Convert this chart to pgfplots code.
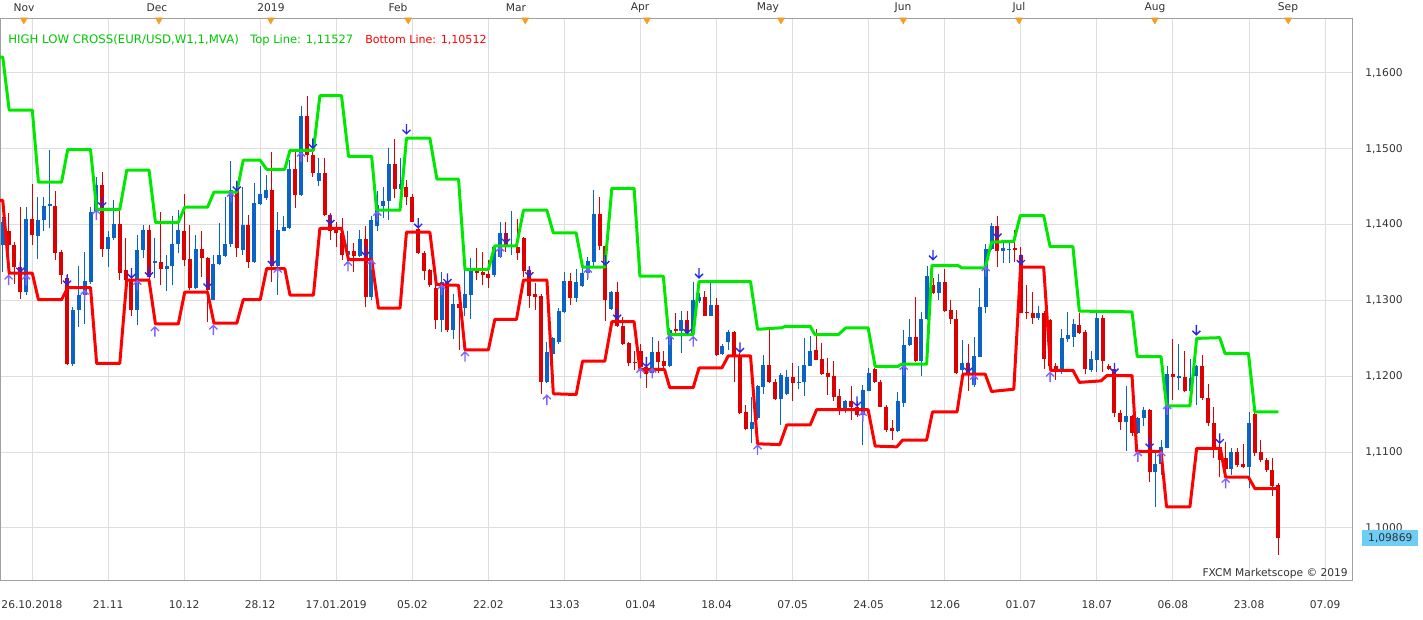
\documentclass[border=0pt]{standalone}
\usepackage{fontspec}
\setmainfont{DejaVu Sans}
\usepackage{pgfplots}
\usepackage{pgfplotstable}
\pgfplotsset{compat=1.18}
\definecolor{candblue}{RGB}{10,100,200}
\definecolor{candred}{RGB}{221,0,0}
\definecolor{lgreen}{RGB}{0,232,0}
\definecolor{tgreen}{RGB}{0,200,0}
\definecolor{lred}{RGB}{255,0,0}
\definecolor{gridc}{RGB}{222,222,222}
\definecolor{framec}{RGB}{160,160,160}
\definecolor{uparr}{RGB}{125,100,255}
\definecolor{dnarr}{RGB}{40,40,230}
\definecolor{tri}{RGB}{240,160,40}
\definecolor{lastbox}{RGB}{110,205,245}
\definecolor{txt}{RGB}{50,50,50}
\pgfdeclareplotmark{arrup}{%
  \pgfpathmoveto{\pgfqpoint{0pt}{-3.8pt}}\pgfpathlineto{\pgfqpoint{0pt}{3.5pt}}%
  \pgfpathmoveto{\pgfqpoint{-3pt}{0.5pt}}\pgfpathlineto{\pgfqpoint{0pt}{3.5pt}}\pgfpathlineto{\pgfqpoint{3pt}{0.5pt}}%
  \pgfusepathqstroke}
\pgfdeclareplotmark{arrdn}{%
  \pgfpathmoveto{\pgfqpoint{0pt}{3.8pt}}\pgfpathlineto{\pgfqpoint{0pt}{-3.5pt}}%
  \pgfpathmoveto{\pgfqpoint{-3pt}{-0.5pt}}\pgfpathlineto{\pgfqpoint{0pt}{-3.5pt}}\pgfpathlineto{\pgfqpoint{3pt}{-0.5pt}}%
  \pgfusepathqstroke}
\pgfplotstableread{
i o h l c
0 1.1373 1.1410 1.1337 1.1403
4 1.1311 1.1423 1.1307 1.1408
6 1.1385 1.1436 1.1355 1.1406
7 1.1406 1.1436 1.1392 1.1425
8 1.1425 1.1498 1.1395 1.1427
12 1.1216 1.1291 1.1214 1.1288
13 1.1288 1.1346 1.1265 1.1307
14 1.1307 1.1364 1.1269 1.1326
15 1.1324 1.1423 1.1322 1.1417
16 1.1417 1.1463 1.1410 1.1452
18 1.1368 1.1392 1.1344 1.1384
19 1.1382 1.1433 1.1380 1.1401
23 1.1287 1.1386 1.1268 1.1367
24 1.1367 1.1400 1.1356 1.1393
26 1.1350 1.1382 1.1329 1.1352
28 1.1342 1.1360 1.1312 1.1345
29 1.1345 1.1411 1.1320 1.1375
30 1.1375 1.1419 1.1362 1.1393
33 1.1316 1.1386 1.1315 1.1368
36 1.1301 1.1360 1.1300 1.1348
37 1.1348 1.1402 1.1347 1.1360
38 1.1359 1.1437 1.1358 1.1375
39 1.1375 1.1484 1.1371 1.1446
41 1.1367 1.1450 1.1360 1.1400
43 1.1351 1.1455 1.1350 1.1428
44 1.1427 1.1477 1.1426 1.1441
45 1.1435 1.1466 1.1433 1.1446
47 1.1345 1.1417 1.1307 1.1393
48 1.1392 1.1411 1.1391 1.1397
49 1.1395 1.1485 1.1394 1.1474
51 1.1439 1.1556 1.1438 1.1543
54 1.1457 1.1488 1.1451 1.1468
59 1.1360 1.1391 1.1349 1.1365
61 1.1359 1.1393 1.1358 1.1381
63 1.1305 1.1411 1.1301 1.1406
64 1.1398 1.1444 1.1391 1.1426
65 1.1425 1.1450 1.1409 1.1431
66 1.1431 1.1501 1.1406 1.1480
68 1.1447 1.1488 1.1446 1.1453
75 1.1274 1.1338 1.1259 1.1325
77 1.1261 1.1309 1.1249 1.1295
79 1.1290 1.1340 1.1279 1.1309
80 1.1307 1.1356 1.1276 1.1341
84 1.1334 1.1373 1.1331 1.1371
85 1.1358 1.1403 1.1356 1.1389
87 1.1371 1.1418 1.1360 1.1373
93 1.1193 1.1245 1.1191 1.1232
94 1.1230 1.1252 1.1217 1.1250
95 1.1245 1.1290 1.1243 1.1286
96 1.1285 1.1338 1.1283 1.1326
98 1.1303 1.1342 1.1298 1.1325
99 1.1319 1.1344 1.1318 1.1336
100 1.1336 1.1357 1.1327 1.1352
101 1.1351 1.1446 1.1344 1.1414
104 1.1289 1.1313 1.1288 1.1311
111 1.1204 1.1252 1.1199 1.1232
114 1.1214 1.1264 1.1212 1.1261
116 1.1260 1.1286 1.1231 1.1274
118 1.1257 1.1324 1.1255 1.1300
119 1.1299 1.1310 1.1297 1.1304
121 1.1280 1.1323 1.1279 1.1294
123 1.1229 1.1242 1.1228 1.1240
124 1.1245 1.1261 1.1235 1.1258
128 1.1131 1.1173 1.1112 1.1140
129 1.1145 1.1189 1.1143 1.1187
130 1.1186 1.1228 1.1177 1.1215
133 1.1170 1.1205 1.1136 1.1202
134 1.1177 1.1208 1.1176 1.1199
136 1.1191 1.1213 1.1183 1.1193
137 1.1192 1.1250 1.1174 1.1215
138 1.1214 1.1253 1.1213 1.1233
144 1.1158 1.1169 1.1151 1.1167
147 1.1149 1.1189 1.1110 1.1182
148 1.1181 1.1211 1.1180 1.1205
153 1.1128 1.1179 1.1126 1.1168
154 1.1165 1.1261 1.1160 1.1241
155 1.1241 1.1276 1.1240 1.1252
157 1.1220 1.1285 1.1200 1.1275
158 1.1275 1.1346 1.1274 1.1332
160 1.1310 1.1335 1.1301 1.1325
164 1.1208 1.1248 1.1203 1.1218
166 1.1188 1.1252 1.1186 1.1227
167 1.1226 1.1316 1.1225 1.1292
168 1.1292 1.1375 1.1283 1.1368
169 1.1368 1.1402 1.1367 1.1398
171 1.1365 1.1377 1.1349 1.1369
172 1.1366 1.1380 1.1349 1.1368
177 1.1277 1.1293 1.1274 1.1284
181 1.1210 1.1263 1.1203 1.1250
182 1.1249 1.1285 1.1245 1.1254
183 1.1252 1.1276 1.1239 1.1269
186 1.1208 1.1234 1.1206 1.1223
187 1.1222 1.1283 1.1206 1.1277
192 1.1140 1.1187 1.1102 1.1148
194 1.1125 1.1147 1.1124 1.1145
195 1.1145 1.1160 1.1134 1.1156
197 1.1074 1.1101 1.1028 1.1085
198 1.1085 1.1116 1.1070 1.1107
199 1.1106 1.1213 1.1105 1.1203
201 1.1198 1.1242 1.1182 1.1200
203 1.1180 1.1223 1.1179 1.1198
204 1.1200 1.1215 1.1162 1.1213
210 1.1078 1.1105 1.1070 1.1100
213 1.1080 1.1153 1.1053 1.1138
}\upc
\pgfplotstableread{
i o h l c
1 1.1391 1.1415 1.1326 1.1373
2 1.1373 1.1377 1.1322 1.1344
3 1.1344 1.1423 1.1302 1.1311
5 1.1408 1.1454 1.1373 1.1386
9 1.1425 1.1445 1.1353 1.1363
10 1.1364 1.1366 1.1322 1.1334
11 1.1330 1.1335 1.1215 1.1216
17 1.1452 1.1469 1.1357 1.1368
20 1.1401 1.1419 1.1327 1.1336
21 1.1340 1.1382 1.1318 1.1327
22 1.1327 1.1331 1.1279 1.1287
25 1.1393 1.1400 1.1318 1.1331
27 1.1351 1.1417 1.1320 1.1342
31 1.1391 1.1441 1.1345 1.1353
32 1.1355 1.1400 1.1314 1.1316
34 1.1368 1.1391 1.1331 1.1356
35 1.1356 1.1358 1.1271 1.1314
40 1.1446 1.1452 1.1358 1.1369
42 1.1400 1.1413 1.1343 1.1351
46 1.1446 1.1496 1.1325 1.1345
50 1.1474 1.1496 1.1422 1.1439
52 1.1543 1.1569 1.1483 1.1492
53 1.1492 1.1503 1.1463 1.1468
55 1.1468 1.1488 1.1411 1.1413
56 1.1413 1.1415 1.1380 1.1391
57 1.1393 1.1404 1.1371 1.1389
58 1.1389 1.1409 1.1354 1.1360
60 1.1365 1.1376 1.1337 1.1359
62 1.1381 1.1398 1.1291 1.1305
67 1.1480 1.1513 1.1435 1.1447
69 1.1450 1.1459 1.1426 1.1436
70 1.1437 1.1440 1.1403 1.1404
71 1.1394 1.1402 1.1361 1.1362
72 1.1362 1.1365 1.1327 1.1339
73 1.1340 1.1342 1.1318 1.1321
74 1.1316 1.1320 1.1263 1.1274
76 1.1325 1.1329 1.1259 1.1261
78 1.1295 1.1301 1.1235 1.1290
81 1.1341 1.1369 1.1327 1.1336
82 1.1337 1.1364 1.1320 1.1334
83 1.1335 1.1353 1.1317 1.1329
86 1.1389 1.1403 1.1364 1.1373
88 1.1371 1.1408 1.1353 1.1362
89 1.1383 1.1384 1.1331 1.1339
90 1.1340 1.1345 1.1290 1.1306
91 1.1308 1.1323 1.1287 1.1305
92 1.1306 1.1309 1.1177 1.1193
97 1.1326 1.1336 1.1294 1.1303
102 1.1414 1.1437 1.1366 1.1372
103 1.1372 1.1373 1.1273 1.1300
105 1.1311 1.1325 1.1265 1.1266
106 1.1266 1.1278 1.1241 1.1243
107 1.1244 1.1245 1.1213 1.1218
108 1.1219 1.1234 1.1208 1.1217
109 1.1234 1.1243 1.1208 1.1212
110 1.1212 1.1221 1.1184 1.1203
112 1.1232 1.1247 1.1204 1.1219
113 1.1220 1.1233 1.1211 1.1214
115 1.1262 1.1283 1.1253 1.1260
117 1.1274 1.1286 1.1255 1.1257
120 1.1304 1.1313 1.1279 1.1280
122 1.1294 1.1303 1.1227 1.1228
125 1.1258 1.1260 1.1193 1.1228
126 1.1228 1.1231 1.1150 1.1151
127 1.1153 1.1162 1.1129 1.1131
131 1.1215 1.1261 1.1191 1.1193
132 1.1193 1.1196 1.1169 1.1170
135 1.1199 1.1217 1.1168 1.1191
139 1.1235 1.1262 1.1221 1.1222
140 1.1223 1.1244 1.1202 1.1203
141 1.1204 1.1224 1.1176 1.1199
142 1.1201 1.1220 1.1167 1.1173
143 1.1174 1.1183 1.1149 1.1156
145 1.1167 1.1187 1.1143 1.1159
146 1.1159 1.1167 1.1147 1.1149
149 1.1209 1.1211 1.1191 1.1192
150 1.1193 1.1195 1.1159 1.1160
151 1.1160 1.1162 1.1126 1.1129
152 1.1132 1.1142 1.1116 1.1128
156 1.1252 1.1305 1.1219 1.1220
159 1.1321 1.1329 1.1309 1.1310
161 1.1325 1.1342 1.1285 1.1286
162 1.1287 1.1301 1.1269 1.1275
163 1.1276 1.1288 1.1203 1.1204
165 1.1217 1.1242 1.1181 1.1203
170 1.1398 1.1411 1.1344 1.1365
173 1.1369 1.1393 1.1351 1.1366
174 1.1360 1.1371 1.1283 1.1284
175 1.1285 1.1320 1.1276 1.1283
176 1.1284 1.1311 1.1269 1.1277
178 1.1284 1.1286 1.1210 1.1223
179 1.1274 1.1276 1.1208 1.1214
180 1.1214 1.1217 1.1195 1.1210
184 1.1268 1.1283 1.1256 1.1257
185 1.1258 1.1261 1.1203 1.1209
188 1.1277 1.1281 1.1206 1.1220
189 1.1214 1.1216 1.1208 1.1209
190 1.1209 1.1217 1.1147 1.1151
191 1.1151 1.1156 1.1129 1.1140
193 1.1148 1.1149 1.1121 1.1125
196 1.1156 1.1157 1.1061 1.1074
200 1.1203 1.1249 1.1169 1.1199
202 1.1199 1.1233 1.1179 1.1180
205 1.1214 1.1228 1.1169 1.1171
206 1.1171 1.1190 1.1134 1.1138
207 1.1138 1.1159 1.1092 1.1106
208 1.1107 1.1111 1.1067 1.1089
209 1.1092 1.1114 1.1068 1.1078
211 1.1100 1.1106 1.1081 1.1083
212 1.1084 1.1111 1.1079 1.1080
214 1.1150 1.1151 1.1095 1.1099
215 1.1100 1.1116 1.1087 1.1090
216 1.1090 1.1092 1.1074 1.1076
217 1.1077 1.1092 1.1042 1.1056
218 1.1057 1.1059 1.0965 1.0987
}\dnc
\pgfplotsset{
  wick/.style={draw=none, mark=none, forget plot, error bars/.cd, y dir=plus, y explicit, error mark=none, error bar style={draw=#1, line width=0.75pt}},
  body/.style={draw=none, mark=none, forget plot, error bars/.cd, y dir=plus, y explicit, error mark=none, error bar style={draw=#1, line width=3pt}},
}
\begin{document}
\begin{tikzpicture}
\path[use as bounding box] (0pt,-29.25pt) rectangle (1067.25pt,435pt);
\begin{axis}[
  scale only axis, width=1014pt, height=421.5pt,
  xmin=-0.47, xmax=230.6, ymin=1.09314, ymax=1.16725,
  clip=false,
  axis line style={framec, line width=0.75pt},
  xtick={5,18,31,44,57,70,83,96,109,122,135,148,161,174,187,200,213,226},
  xticklabels={26.10.2018,21.11,10.12,28.12,17.01.2019,05.02,22.02,13.03,01.04,18.04,07.05,24.05,12.06,01.07,18.07,06.08,23.08,07.09},
  ytick={1.10,1.11,1.12,1.13,1.14,1.15,1.16},
  yticklabels={{1,1000},{1,1100},{1,1200},{1,1300},{1,1400},{1,1500},{1,1600}},
  yticklabel pos=right,
  xmajorgrids, ymajorgrids,
  grid style={gridc, line width=0.75pt},
  major tick length=0pt,
  xticklabel style={anchor=center, yshift=-18.75pt, font=\fontsize{8}{9}\selectfont, text=txt},
  yticklabel style={anchor=west, inner sep=0pt, xshift=9.75pt, font=\fontsize{8}{9}\selectfont, text=txt},
]
\addplot[wick=candblue] table[x=i, y=l, y error plus expr={\thisrow{h}-\thisrow{l}}] {\upc};
\addplot[wick=candred] table[x=i, y=l, y error plus expr={\thisrow{h}-\thisrow{l}}] {\dnc};
\addplot[body=candblue] table[x=i, y=o, y error plus expr={\thisrow{c}-\thisrow{o}}] {\upc};
\addplot[body=candred] table[x=i, y=c, y error plus expr={\thisrow{o}-\thisrow{c}}] {\dnc};
\addplot[lgreen, line width=2.25pt, line join=round] coordinates {
(-0.47,1.1621) (0,1.1621) (1.1,1.1551) (5.05,1.1551) (6.1,1.1456) (10.05,1.1456) (11.1,1.1499) (15,1.1499) (16.05,1.1420) (20,1.1420) (21.2,1.1472) (25,1.1472) (26.1,1.1403) (30,1.1403) (31.1,1.1423) (35,1.1423) (36.1,1.1443) (40,1.1443) (41.1,1.1485) (44,1.1485) (45.1,1.1473) (48.2,1.1473) (49.1,1.1498) (53.1,1.1498) (54.2,1.1570) (57.9,1.1570) (59.1,1.1490) (63.05,1.1490) (63.9,1.1419) (67.9,1.1419) (69,1.1514) (73,1.1514) (74.2,1.1460) (77.9,1.1460) (79,1.1341) (83,1.1341) (84.1,1.1372) (87.8,1.1372) (89,1.1419) (93,1.1419) (94.1,1.1389) (98,1.1389) (99.1,1.1344) (102.9,1.1344) (104.1,1.1448) (107.9,1.1448) (108.9,1.1332) (112.9,1.1332) (113.8,1.1255) (118,1.1255) (119,1.1325) (127.8,1.1325) (129,1.1262) (133.1,1.1264) (133.8,1.1266) (138,1.1266) (138.8,1.1255) (142.8,1.1255) (144.1,1.1264) (147.9,1.1264) (149.1,1.1213) (153,1.1213) (153.6,1.1216) (157.9,1.1216) (158.8,1.1346) (163.3,1.1346) (163.9,1.1343) (167.9,1.1343) (169,1.1377) (172.8,1.1378) (173.9,1.1412) (177.9,1.1412) (179,1.1371) (182.9,1.1371) (184,1.1286) (193,1.1285) (193.9,1.1226) (197.96,1.1226) (198.9,1.1161) (202.9,1.1161) (204.05,1.1250) (208,1.1251) (208.9,1.1230) (212.9,1.1230) (214,1.1153) (218,1.1153)
};
\addplot[lred, line width=2.25pt, line join=round] coordinates {
(-0.47,1.1432) (0,1.1432) (1.1,1.1336) (5.05,1.1336) (6.1,1.1301) (10.05,1.1301) (11.1,1.1317) (15,1.1317) (16.05,1.1217) (20,1.1217) (21.2,1.1327) (25,1.1327) (26.1,1.1269) (30,1.1269) (31.1,1.1311) (35,1.1311) (36.1,1.1270) (40,1.1270) (41.1,1.1301) (44,1.1301) (45.1,1.1342) (48.2,1.1342) (49.1,1.1307) (53.1,1.1307) (54.2,1.1395) (57.9,1.1395) (59.1,1.1354) (63.05,1.1354) (64.2,1.1290) (67.9,1.1290) (69,1.1390) (73,1.1390) (74.1,1.1321) (77.9,1.1320) (79,1.1235) (83,1.1235) (84.1,1.1275) (87.8,1.1275) (89,1.1327) (93,1.1327) (94.1,1.1177) (98,1.1176) (99.1,1.1220) (102.9,1.1220) (104.1,1.1272) (107.9,1.1272) (108.9,1.1209) (113.1,1.1209) (114,1.1185) (118,1.1185) (119,1.1211) (122.9,1.1211) (124,1.1227) (127.8,1.1227) (129,1.1111) (132.8,1.1110) (134,1.1136) (138,1.1136) (139.1,1.1156) (147.9,1.1156) (149.1,1.1108) (152.8,1.1107) (153.8,1.1116) (157.9,1.1116) (158.9,1.1153) (163.1,1.1153) (164.1,1.1203) (167.9,1.1203) (169,1.1180) (172.8,1.1183) (173.95,1.1344) (177.9,1.1344) (179.1,1.1208) (182.9,1.1208) (184,1.1192) (187.7,1.1194) (188.7,1.1201) (193,1.1201) (193.8,1.1101) (197.96,1.1101) (198.9,1.1028) (202.9,1.1028) (204.05,1.1105) (208.1,1.1105) (209,1.1067) (212.9,1.1067) (214,1.1052) (218,1.1052)
};
\addplot[only marks, mark=arrup, mark options={draw=uparr, line width=1pt}] coordinates {
(1,1.1327) (4,1.1327) (14,1.1307) (16,1.1413) (23,1.1320) (26,1.1259) (36,1.1261) (39,1.1436) (47,1.1336) (51,1.1489) (59,1.1345) (63,1.1347) (64,1.1411) (75,1.1314) (79,1.1226) (85,1.1364) (93,1.1169) (100,1.1336) (109,1.1204) (111,1.1204) (114,1.1248) (118,1.1246) (129,1.1103) (147,1.1147) (154,1.1208) (166,1.1195) (168,1.1338) (179,1.1199) (194,1.1094) (198,1.1094) (199,1.1156) (209,1.1059)
};
\addplot[only marks, mark=arrdn, mark options={draw=dnarr, line width=1pt}] coordinates {
(3,1.1344) (11,1.1327) (17,1.1430) (22,1.1336) (25,1.1338) (35,1.1323) (40,1.1451) (46,1.1353) (53,1.1507) (56,1.1407) (62,1.1365) (69,1.1526) (71,1.1402) (76,1.1329) (86,1.1382) (90,1.1338) (103,1.1353) (105,1.1282) (110,1.1219) (117,1.1263) (119,1.1336) (126,1.1238) (146,1.1167) (159,1.1360) (165,1.1212) (170,1.1389) (174,1.1354) (190,1.1211) (196,1.1112) (204,1.1261) (208,1.1118)
};
\addplot[only marks, mark=triangle*, mark size=3pt, mark options={rotate=180, fill=tri, draw=tri}] coordinates {
(3.6,1.16699) (26.7,1.16699) (45.8,1.16699) (69.3,1.16699) (89.3,1.16699) (110.1,1.16699) (133.0,1.16699) (153.9,1.16699) (173.7,1.16699) (196.9,1.16699) (219.7,1.16699)
};
\end{axis}
\begin{scope}[font=\fontsize{8}{9}\selectfont]
\node[anchor=west, text=tgreen, inner sep=0pt, font=\fontsize{8.8}{10}\selectfont] at (6pt,405pt) {HIGH LOW CROSS(EUR/USD,W1,1,MVA)};
\node[anchor=west, text=tgreen, inner sep=0pt, font=\fontsize{8.6}{10}\selectfont] at (187.5pt,405pt) {Top Line: 1,11527};
\node[anchor=west, text=lred, inner sep=0pt, font=\fontsize{8.3}{10}\selectfont] at (273.75pt,405pt) {Bottom Line: 1,10512};
\node[anchor=east, text=txt, inner sep=0pt] at (1011pt,4.5pt) {FXCM Marketscope © 2019};
\node[anchor=west, fill=lastbox, text=txt, inner sep=1.5pt, minimum height=12.5pt, minimum width=42pt] at (1021.5pt,31.5pt) {1,09869};
\node[text=txt] at (18pt,429pt) {Nov};
\node[text=txt] at (117.75pt,429pt) {Dec};
\node[text=txt] at (203.25pt,429pt) {2019};
\node[text=txt] at (298.5pt,429pt) {Feb};
\node[text=txt] at (387pt,429pt) {Mar};
\node[text=txt] at (480pt,429pt) {Apr};
\node[text=txt] at (576pt,429pt) {May};
\node[text=txt] at (677.25pt,429pt) {Jun};
\node[text=txt] at (764.25pt,429pt) {Jul};
\node[text=txt] at (866.25pt,429pt) {Aug};
\node[text=txt] at (966pt,429pt) {Sep};
\end{scope}
\end{tikzpicture}
\end{document}
